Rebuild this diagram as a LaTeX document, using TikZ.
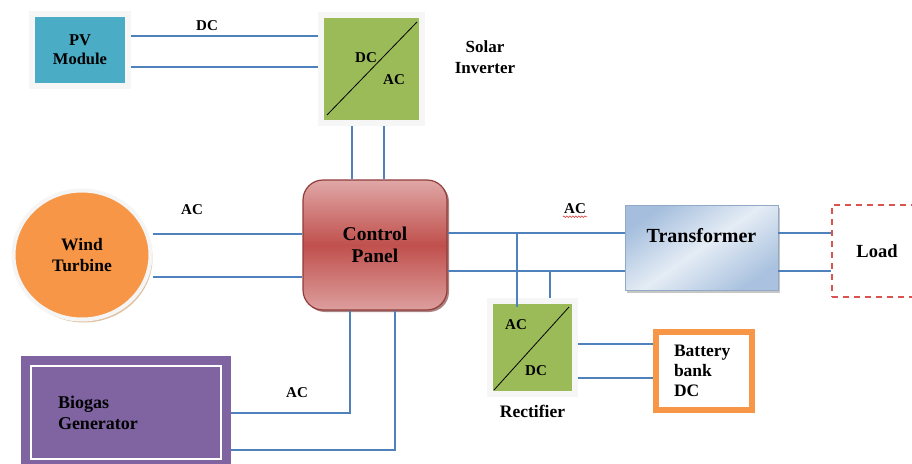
\documentclass[tikz,border=0pt]{standalone}
\usepackage{fontspec}
\setmainfont{Liberation Serif}
\usepackage{tikz}
\usetikzlibrary{
    positioning,
    shapes.geometric,
    shadows,
    decorations.pathmorphing
}
\definecolor{pvblue}{HTML}{4BACC6}
\definecolor{convgreen}{HTML}{9BBB59}
\definecolor{cpred}{HTML}{C0504D}
\definecolor{windorange}{HTML}{F79646}
\definecolor{biopurple}{HTML}{8064A2}
\definecolor{wireblue}{HTML}{4F81BD}
\definecolor{transblue}{HTML}{95B3D7}
\definecolor{loadred}{HTML}{D9534F}

\begin{document}
\begin{tikzpicture}[
      x=1pt, y=-1pt,
      box/.style={align=center, font=\bfseries\fontsize{17.5}{21}\selectfont},
      framed/.style={box, draw=gray!7, line width=6pt, drop shadow={shadow xshift=1.5pt, shadow yshift=-3pt, fill=gray!60, opacity=0.9}},
      conv/.style={framed, fill=convgreen},
      tag/.style={inner sep=1pt, font=\bfseries\fontsize{15}{17}\selectfont},
      wire/.style={draw=wireblue, line width=1.6pt}
    ]
    \useasboundingbox (0,0) rectangle (912,463);

    \node[framed, fill=pvblue, minimum width=96pt, minimum height=72pt, font=\bfseries\fontsize{16.5}{19}\selectfont] (pv) at (80,50) {PV\\Module};
    \node[conv, minimum width=101pt, minimum height=108pt] (inv) at (371.5,69) {};
    \node[box, font=\bfseries\fontsize{17}{21}\selectfont] (invlbl) at (485,57) {Solar\\Inverter};
    \node[box, rounded corners=20pt, draw=cpred!75!black, line width=1.2pt, top color=cpred!50!white, bottom color=cpred!55!white, middle color=cpred, minimum width=144pt, minimum height=130pt, font=\bfseries\fontsize{19.5}{22}\selectfont, drop shadow={shadow xshift=2pt, shadow yshift=-2pt, fill=cpred!60!black, opacity=0.6}] (cp) at (375,245) {Control\\Panel};
    \node[box, ellipse, fill=windorange, draw=gray!8, line width=4pt, minimum width=137pt, minimum height=129pt, drop shadow={shadow xshift=2pt, shadow yshift=-3pt, fill=brown!60!white, opacity=0.8}] (wind) at (82,255) {Wind\\Turbine};
    \node[box, fill=biopurple, draw=biopurple, double=white, double distance=2pt, line width=9pt, outer sep=10pt, minimum width=190pt, minimum height=93pt, text width=136pt, align=left, font=\bfseries\fontsize{18}{21}\selectfont] (bio) at (126,412.5) {Biogas\\Generator};
    \node[box, draw=transblue!80!gray, line width=.8pt, top color=transblue!85!white, bottom color=transblue!80!white, middle color=transblue!25!white, shading angle=35, minimum width=153pt, minimum height=85pt, text depth=24pt, font=\bfseries\fontsize{20}{22}\selectfont, drop shadow={shadow xshift=2pt, shadow yshift=-3pt, fill=gray!55, opacity=0.8}] (trans) at (701.5,247.5) {Transformer};
    \node[box, draw=loadred, dashed, dash pattern=on 6pt off 5pt, line width=1.5pt, minimum width=90pt, minimum height=92pt, font=\bfseries\fontsize{18.5}{21}\selectfont] (load) at (877,251) {Load};
    \node[conv, minimum width=85pt, minimum height=93pt] (rect) at (532.5,347.5) {};
    \node[box, below=5pt of rect] (rectlbl) {Rectifier};
    \node[box, draw=windorange, line width=6pt, fill=white, minimum width=96pt, minimum height=78pt, text width=60pt, align=left, font=\bfseries\fontsize{17.5}{20}\selectfont] (batt) at (704,371) {Battery\\bank\\DC};

    \draw[line width=.8pt] ([shift={(9,-11)}]inv.south west) -- ([shift={(-8,10)}]inv.north east);
    \node[tag] (invdc) at (366,58) {DC};
    \node[tag] (invac) at (394,80) {AC};
    \draw[line width=.8pt] ([shift={(7,-7)}]rect.south west) -- ([shift={(-9,9)}]rect.north east);
    \node[tag] (rectac) at (516,325) {AC};
    \node[tag] (rectdc) at (536,371) {DC};

    \draw[wire] (pv.east |- 0,36) -- (inv.west |- 0,36);
    \draw[wire] (pv.east |- 0,67) -- (inv.west |- 0,67);
    \draw[wire] (inv.south -| 352,0) -- (cp.north -| 352,0);
    \draw[wire] (inv.south -| 384,0) -- (cp.north -| 384,0);
    \draw[wire] (wind.east |- 0,234) -- (cp.west |- 0,234);
    \draw[wire] (wind.east |- 0,277) -- (cp.west |- 0,277);
    \draw[wire] (cp.south -| 350,0) |- (bio.east |- 0,413);
    \draw[wire] (cp.south -| 395,0) |- (bio.east |- 0,450);
    \draw[wire] (cp.east |- 0,233) -- (trans.west |- 0,233);
    \draw[wire] (cp.east |- 0,271) -- (trans.west |- 0,271);
    \draw[wire] (trans.east |- 0,233) -- (load.west |- 0,233);
    \draw[wire] (trans.east |- 0,271) -- (load.west |- 0,271);
    \coordinate (tapA) at (517,233);
    \coordinate (tapB) at (550,271);
    \draw[wire] (tapA) -- (tapA |- rect.north) -- ++(0,9);
    \draw[wire] (tapB) -- (tapB |- rect.north);
    \draw[wire] (rect.east |- 0,344) -- (batt.west |- 0,344);
    \draw[wire] (rect.east |- 0,378) -- (batt.west |- 0,378);

    \node[tag] (dcpv) at (207,26) {DC};
    \node[tag] (acwind) at (192,210) {AC};
    \node[tag] (acbio) at (297,393) {AC};
    \node[tag] (acgrid) at (575,209) {AC};
    \draw[loadred, line width=.7pt, decorate, decoration={snake, amplitude=.8pt, segment length=3pt}] ([yshift=-1.5pt]acgrid.south west) -- ([yshift=-1.5pt]acgrid.south east);
  \end{tikzpicture}
\end{document}
